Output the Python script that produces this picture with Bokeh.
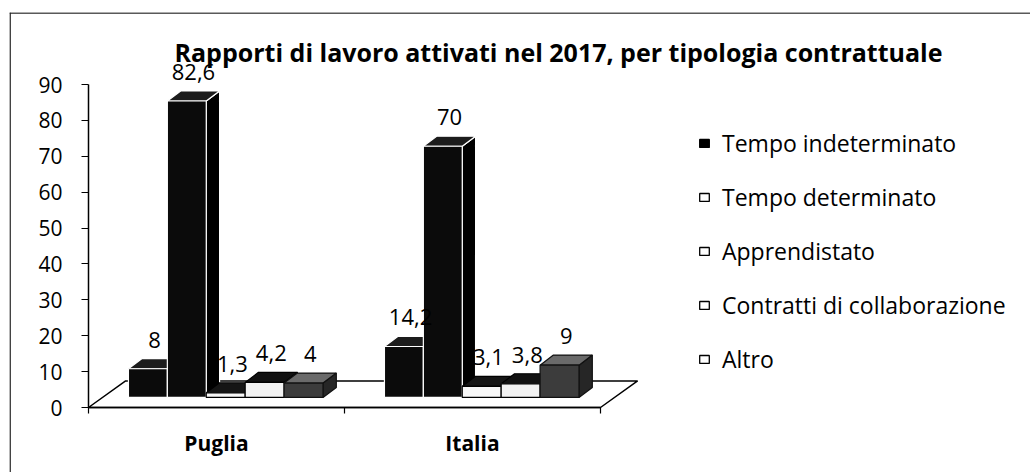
import numpy as np
from bokeh.plotting import figure
from bokeh.models import (ColumnDataSource, FixedTicker, Legend, LegendItem,
                          Label, Range1d, Span)
from bokeh.core.properties import value
from bokeh.embed import file_html
from bokeh.resources import INLINE

# ---------------- data ----------------
title_text = "Rapporti di lavoro attivati nel 2017, per tipologia contrattuale"
regions = ["Puglia", "Italia"]
series = ["Tempo indeterminato", "Tempo determinato", "Apprendistato",
          "Contratti di collaborazione", "Altro"]
tempo_indeterminato = [8, 14.2]
tempo_determinato = [82.6, 70]
apprendistato = [1.3, 3.1]
collaborazione = [4.2, 3.8]
altro = [4, 9]
y_ticks = [0, 10, 20, 30, 40, 50, 60, 70, 80, 90]

values = [tempo_indeterminato, tempo_determinato, apprendistato,
          collaborazione, altro]

# ---------------- layout constants ----------------
W, H = 1030, 472
ML, MT = 9, 12                     # frame offsets inside figure
FW, FH = W - ML, H - MT            # frame size
PX_X = 256.0                       # pixels per x unit (one region)
PX_Y = 323.0 / 90.0                # pixels per y unit
X0_PX = 88 - ML                    # frame px where x = 0
Y0_PX = 407 - MT                   # frame px (from top) where y = 0

x_start = -X0_PX / PX_X
x_end = x_start + FW / PX_X
y_end = Y0_PX / PX_Y
y_start = y_end - FH / PX_Y

BAR_W = 0.152
BAR_START = 0.156
BASE = 2.8
DX, DY = 0.052, 2.8
FLOOR_DX, FLOOR_DY = 0.145, 7.4
LABEL_OFF = 29.0 / PX_Y

front_col = ["#0b0b0b", "#0b0b0b", "#f7f7f7", "#f2f2f2", "#3c3c3c"]
top_col = ["#1c1c1c", "#1c1c1c", "#151515", "#111111", "#6a6a6a"]
side_col = ["#000000", "#000000", "#bdbdbd", "#a8a8a8", "#262626"]
edge_col = ["#ffffff", "#ffffff", "#000000", "#000000", "#111111"]
legend_fill = ["#000000", "#ffffff", "#ffffff", "#ffffff", "#ffffff"]

FONT = "Open Sans"

p = figure(width=W, height=H, output_backend="svg", toolbar_location=None,
           x_range=Range1d(x_start, x_end), y_range=Range1d(y_start, y_end),
           min_border_left=ML, min_border_top=MT, min_border_right=0,
           min_border_bottom=0)
p.outline_line_color = None
p.grid.visible = False
p.background_fill_color = "white"
p.border_fill_color = "white"

# floor
g_all = np.arange(len(regions))
p.patch(x=[0, len(regions), len(regions) + FLOOR_DX, FLOOR_DX],
        y=[0, 0, FLOOR_DY, FLOOR_DY], fill_color="white",
        line_color="black", line_width=1.5)

# 3D bars
lab_x, lab_y, lab_t = [], [], []
for k in range(len(series)):
    vals = np.array(values[k], dtype=float)
    x0 = g_all + BAR_START + k * BAR_W
    x1 = x0 + BAR_W
    t = BASE + vals
    side = ColumnDataSource(dict(
        xs=[[a, a + DX, a + DX, a] for a in x1],
        ys=[[BASE, BASE + DY, tt + DY, tt] for tt in t]))
    top = ColumnDataSource(dict(
        xs=[[a0, a1, a1 + DX, a0 + DX] for a0, a1 in zip(x0, x1)],
        ys=[[tt, tt, tt + DY, tt + DY] for tt in t]))
    p.patches("xs", "ys", source=side, fill_color=side_col[k],
              line_color=edge_col[k], line_width=1.2)
    p.patches("xs", "ys", source=top, fill_color=top_col[k],
              line_color=edge_col[k], line_width=1.2)
    p.quad(left=x0, right=x1, bottom=BASE, top=t, fill_color=front_col[k],
           line_color=edge_col[k], line_width=1.2)
    for a0, tt, v in zip(x0, t, vals):
        lab_x.append(a0 + BAR_W / 2 + DX / 2)
        lab_y.append(tt + LABEL_OFF)
        lab_t.append(f"{v:g}".replace(".", ","))

p.text(x=lab_x, y=lab_y, text=lab_t, text_align="center",
       text_baseline="middle", text_font=value(FONT),
       text_font_size="22px", text_color="black")

# axes
p.yaxis.fixed_location = 0
p.yaxis.bounds = (0, 90)
p.yaxis.ticker = FixedTicker(ticks=y_ticks)
p.yaxis.axis_line_width = 1.5
p.yaxis.axis_line_color = "black"
p.yaxis.major_tick_in = 0
p.yaxis.major_tick_out = 7
p.yaxis.major_tick_line_width = 1.2
p.yaxis.minor_tick_line_color = None
p.yaxis.major_label_standoff = 19
p.yaxis.major_label_text_font = FONT
p.yaxis.major_label_text_font_size = "21px"
p.yaxis.major_label_text_color = "black"

centers = [i + 0.5 for i in range(len(regions))]
p.xaxis.fixed_location = 0
p.xaxis.bounds = (0, len(regions))
p.xaxis.ticker = FixedTicker(ticks=centers,
                             minor_ticks=list(range(len(regions) + 1)))
p.xaxis.major_label_overrides = {c: r for c, r in zip(centers, regions)}
p.xaxis.axis_line_width = 1.5
p.xaxis.axis_line_color = "black"
p.xaxis.major_tick_line_color = None
p.xaxis.minor_tick_in = 0
p.xaxis.minor_tick_out = 6
p.xaxis.minor_tick_line_width = 1.2
p.xaxis.major_label_standoff = 15
p.xaxis.major_label_text_font = FONT
p.xaxis.major_label_text_font_style = "bold"
p.xaxis.major_label_text_font_size = "21px"
p.xaxis.major_label_text_color = "black"

# title
p.add_layout(Label(x=(558 - 88) / PX_X, y=(407 - 51) / PX_Y, text=title_text,
                   text_align="center", text_baseline="alphabetic",
                   text_font=FONT, text_font_style="bold",
                   text_font_size="25px", text_color="black"))

# outer box (left and top edges)
p.add_layout(Span(location=x_start + 0.6 / PX_X, dimension="height",
                  line_color="#222222", line_width=1.5))
p.add_layout(Span(location=y_end - 0.6 / PX_Y, dimension="width",
                  line_color="#222222", line_width=1.5))

# legend (sample glyphs sit outside the visible frame)
items = []
for k, name in enumerate(series):
    r = p.quad(left=[x_end + 1], right=[x_end + 2], bottom=[0], top=[1],
               fill_color=legend_fill[k], line_color="black",
               line_width=1.3)
    items.append(LegendItem(label=name, renderers=[r]))
legend = Legend(items=items, location=(689, 97), glyph_width=12,
                glyph_height=10, label_standoff=12, spacing=22,
                label_height=31, padding=0, margin=0,
                border_line_color=None, background_fill_alpha=0,
                label_text_font=FONT, label_text_font_size="23px",
                label_text_color="black")
p.add_layout(legend)

open("out.html", "w").write(file_html(p, INLINE))
